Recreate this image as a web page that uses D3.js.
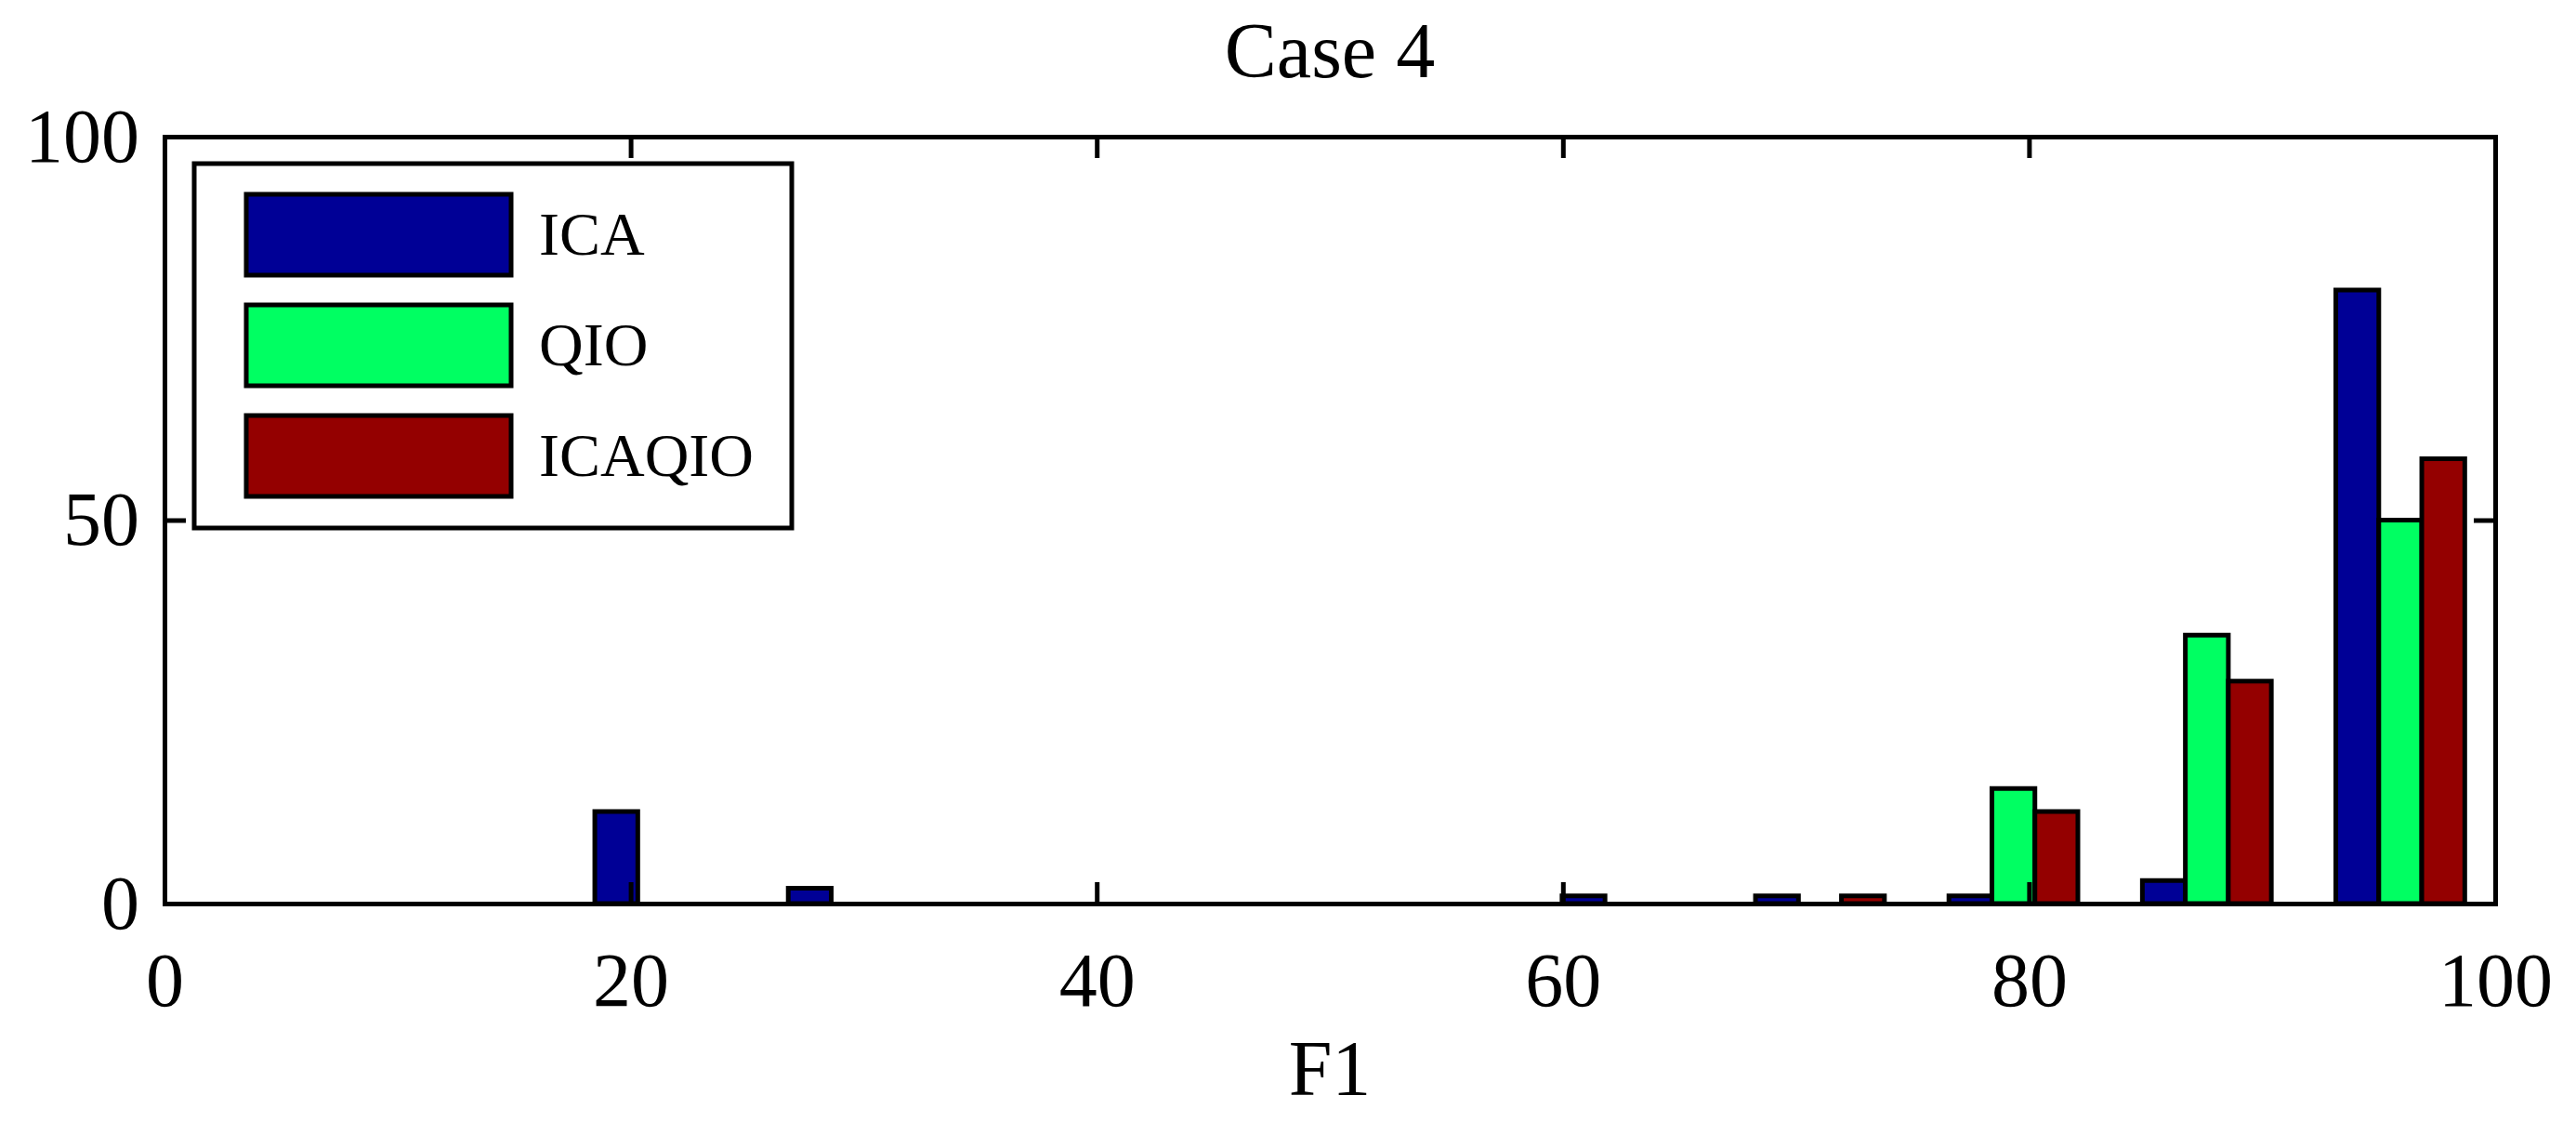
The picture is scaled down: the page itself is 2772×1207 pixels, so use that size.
<!DOCTYPE html>
<html>
<head>
<meta charset="utf-8">
<script src="https://cdn.jsdelivr.net/npm/d3@7"></script>
<style>
  body { margin: 0; background: #fff; }
  text { font-family: "Liberation Serif", "Times New Roman", serif; fill: #000; }
  .axis path, .axis line { stroke: #000; stroke-width: 5; }
</style>
</head>
<body>
<div id="chart"></div>
<script>
var width = 2772;
var height = 1207;

// histogram bin centres (12 bins)
var binCenters = [4.63, 12.93, 21.23, 29.53, 37.83, 46.13, 54.43, 62.73, 71.03, 79.33, 87.63, 95.93];
var binWidth = 8.30;
var seriesNames = ['ICA', 'QIO', 'ICAQIO'];
var seriesColors = ['#000096', '#00ff62', '#940000'];
var icaValues = [0, 0, 12, 2, 0, 0, 0, 1, 1, 1, 3, 80];
var qioValues = [0, 0, 0, 0, 0, 0, 0, 0, 0, 15, 35, 50];
var icaqioValues = [0, 0, 0, 0, 0, 0, 0, 0, 1, 12, 29, 58];
var xTicks = [0, 20, 40, 60, 80, 100];
var yTicks = [0, 50, 100];

var series = [icaValues, qioValues, icaqioValues];

var margin = { left: 177, right: 2685, top: 147, bottom: 972 };

var svg = d3.select('#chart')
  .append('svg')
  .attr('width', width)
  .attr('height', height);

var x = d3.scaleLinear()
  .domain([0, 100])
  .range([margin.left, margin.right]);
var y = d3.scaleLinear()
  .domain([0, 100])
  .range([margin.bottom, margin.top]);

// bars: three series grouped inside each bin
var groupWidth = binWidth * 2 / 3;
var barWidth = groupWidth / series.length;

var barsGroup = svg.append('g');
series.forEach(function(values, s) {
  barsGroup.append('g')
    .selectAll('rect')
    .data(values)
    .enter()
    .append('rect')
    .attr('x', function(d, i) {
      return x(binCenters[i] - groupWidth / 2 + s * barWidth);
    })
    .attr('width', x(barWidth) - x(0))
    .attr('y', function(d) { return y(d); })
    .attr('height', function(d) { return y(0) - y(d); })
    .attr('fill', seriesColors[s])
    .attr('stroke', '#000')
    .attr('stroke-width', 5);
});

// axes with inward ticks, box style
var tickLen = 23;
svg.append('g')
  .attr('class', 'axis')
  .attr('transform', 'translate(0,' + margin.bottom + ')')
  .call(d3.axisBottom(x).tickValues(xTicks).tickSizeInner(-tickLen)
    .tickSizeOuter(0).tickPadding(52));
svg.append('g')
  .attr('class', 'axis')
  .attr('transform', 'translate(0,' + margin.top + ')')
  .call(d3.axisTop(x).tickValues(xTicks).tickSizeInner(-tickLen)
    .tickSizeOuter(0).tickFormat(''));
svg.append('g')
  .attr('class', 'axis')
  .attr('transform', 'translate(' + margin.left + ',0)')
  .call(d3.axisLeft(y).tickValues(yTicks).tickSizeInner(-tickLen)
    .tickSizeOuter(0).tickPadding(27));
svg.append('g')
  .attr('class', 'axis')
  .attr('transform', 'translate(' + margin.right + ',0)')
  .call(d3.axisRight(y).tickValues(yTicks).tickSizeInner(-tickLen)
    .tickSizeOuter(0).tickFormat(''));

svg.selectAll('.axis text')
  .attr('font-size', 82)
  .attr('font-family', '"Liberation Serif", serif');
svg.selectAll('.axis .domain').attr('stroke-linecap', 'square');

// title and axis label
svg.append('text')
  .attr('x', (margin.left + margin.right) / 2)
  .attr('y', 83)
  .attr('text-anchor', 'middle')
  .attr('font-size', 84)
  .text('Case 4');
svg.append('text')
  .attr('x', (margin.left + margin.right) / 2)
  .attr('y', 1178)
  .attr('text-anchor', 'middle')
  .attr('font-size', 84)
  .text('F1');

// legend
var legend = svg.append('g');
legend.append('rect')
  .attr('x', 209)
  .attr('y', 176)
  .attr('width', 643)
  .attr('height', 392)
  .attr('fill', '#fff')
  .attr('stroke', '#000')
  .attr('stroke-width', 5);
var rowTops = [209, 328, 447];
seriesNames.forEach(function(name, i) {
  legend.append('rect')
    .attr('x', 265)
    .attr('y', rowTops[i])
    .attr('width', 285)
    .attr('height', 87)
    .attr('fill', seriesColors[i])
    .attr('stroke', '#000')
    .attr('stroke-width', 5);
  legend.append('text')
    .attr('x', 580)
    .attr('y', rowTops[i] + 43.5)
    .attr('dy', '0.33em')
    .attr('font-size', 66)
    .text(name);
});
</script>
</body>
</html>
